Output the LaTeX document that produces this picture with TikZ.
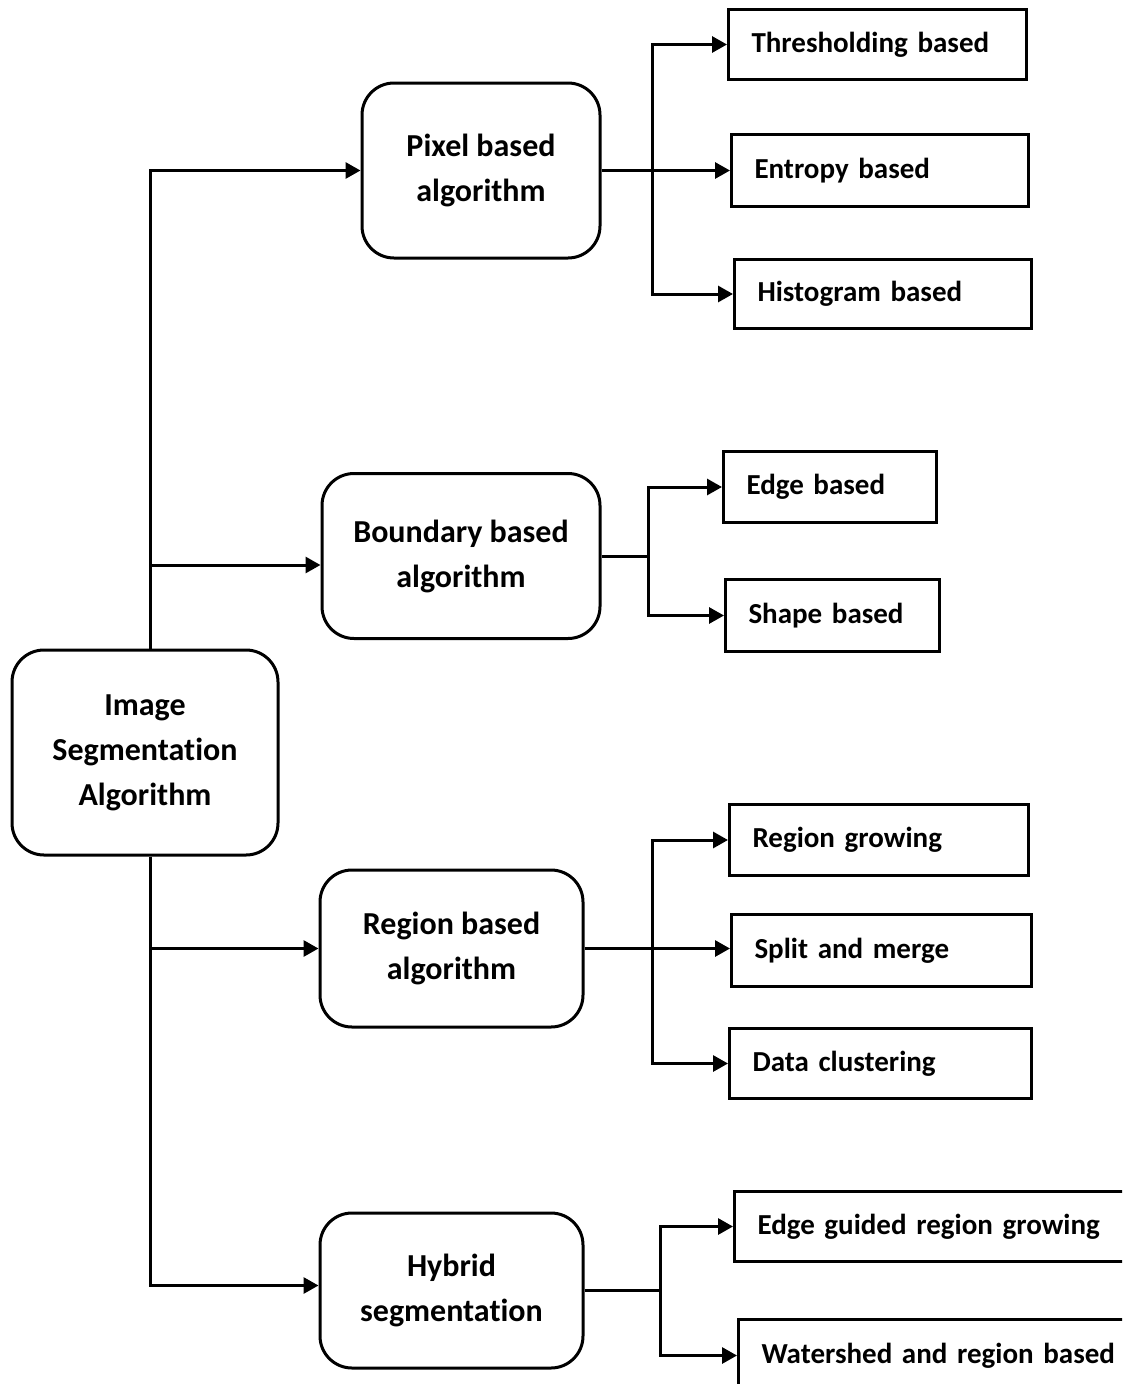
\documentclass[tikz,border=0pt]{standalone}
\usepackage{fontspec}
\setmainfont{Carlito}[Ligatures=NoCommon]
\usepackage{tikz}
\usetikzlibrary{arrows.meta,positioning,calc}

\begin{document}
\begin{tikzpicture}[x=1pt, y=-1pt, line width=3pt,
    >={Triangle[length=15pt,width=16pt]},
    algo/.style={draw, rounded corners=32pt, align=center, font=\bfseries\fontsize{32}{45}\selectfont},
    leaf/.style={draw, rectangle, anchor=north west, inner xsep=23pt, inner ysep=0pt, align=left, text width=#1, font=\bfseries\fontsize{29}{36}\selectfont}]
    \useasboundingbox (0,0) rectangle (1122,1384);
    \clip (0,0) rectangle (1122,1384);

    % Main boxes
    \node[algo, minimum width=266pt, minimum height=205pt] (root) at (145,752.5) {Image\\Segmentation\\Algorithm};
    \node[algo, minimum width=238pt, minimum height=175pt] (pixel) at (481,170.5) {Pixel based\\algorithm};
    \node[algo, minimum width=278pt, minimum height=165pt] (boundary) at (461,556) {Boundary based\\algorithm};
    \node[algo, minimum width=263pt, minimum height=157pt] (region) at (451.5,948.5) {Region based\\algorithm};
    \node[algo, minimum width=263pt, minimum height=155pt] (hybrid) at (451.5,1290.5) {Hybrid\\segmentation};

    % Leaves
    \node[leaf=252pt, minimum height=70pt] (thr) at (727,8) {Thresholding based};
    \node[leaf=251pt, minimum height=72pt] (ent) at (730,133) {Entropy based};
    \node[leaf=251pt, minimum height=69pt] (his) at (733,258) {Histogram based};
    \node[leaf=167pt, minimum height=71pt] (edg) at (722,450) {Edge based};
    \node[leaf=168pt, minimum height=72pt] (shp) at (724,578) {Shape based};
    \node[leaf=253pt, minimum height=71pt] (rgr) at (728,803) {Region growing};
    \node[leaf=254pt, minimum height=72pt] (spl) at (730,913) {Split and merge};
    \node[leaf=256pt, minimum height=70pt] (dcl) at (728,1027) {Data clustering};
    \node[leaf=404pt, minimum height=70pt] (egr) at (733,1190) {Edge guided region growing};
    \node[leaf=404pt, minimum height=72pt] (wat) at (737,1318) {Watershed and region based};

    % Trunk
    \coordinate (trunk) at (150,0);
    \draw[->] (root.north -| trunk) |- (pixel.west);
    \draw[->] (root.north -| trunk) |- ([yshift=-9pt]boundary.west);
    \draw[->] (root.south -| trunk) |- (region.west);
    \draw[->] (root.south -| trunk) |- ([yshift=5pt]hybrid.west);

    % Branches
    \coordinate (pb) at (652,0);
    \coordinate (bb) at (648,0);
    \coordinate (rb) at (652,0);
    \coordinate (hb) at (660,0);
    \draw[->] (pixel.east) -- (pixel.east -| ent.west);
    \draw[->] (pixel.east -| pb) |- (thr.west);
    \draw[->] (pixel.east -| pb) |- (his.west);
    \draw (boundary.east) -- (boundary.east -| bb);
    \draw[->] (boundary.east -| bb) |- (edg.west);
    \draw[->] (boundary.east -| bb) |- (shp.west);
    \draw[->] (region.east) -- (region.east -| spl.west);
    \draw[->] (region.east -| rb) |- (rgr.west);
    \draw[->] (region.east -| rb) |- (dcl.west);
    \draw (hybrid.east) -- (hybrid.east -| hb);
    \draw[->] (hybrid.east -| hb) |- (egr.west);
    \draw[->] (hybrid.east -| hb) |- (wat.west);
\end{tikzpicture}
\end{document}
